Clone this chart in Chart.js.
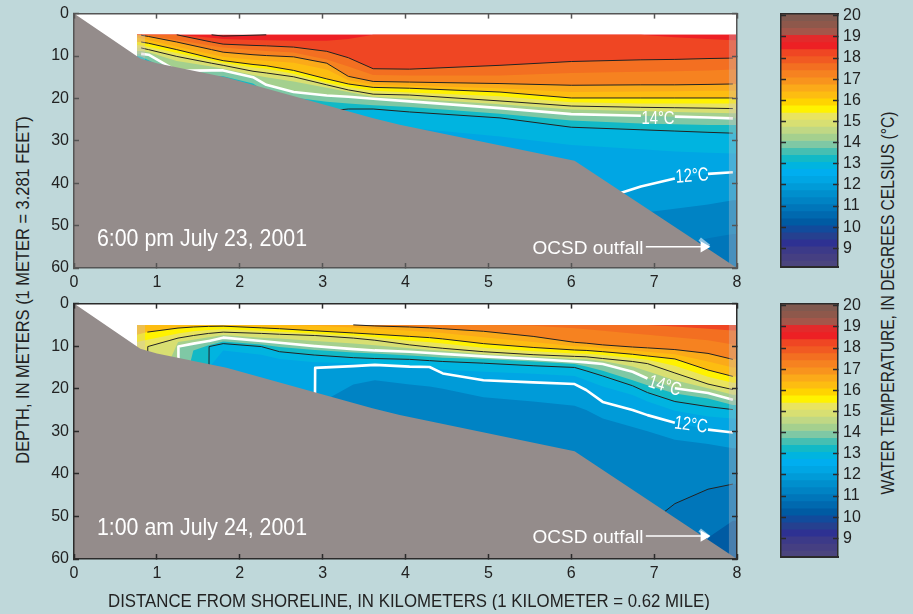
<!DOCTYPE html>
<html>
<head>
<meta charset="utf-8">
<script src="https://cdn.jsdelivr.net/npm/chart.js@4"></script>
<style>
  html, body { margin: 0; padding: 0; background: #bfd8da; }
  body { position: relative; width: 913px; height: 614px; overflow: hidden; font-family: 'Liberation Sans', sans-serif; }
  canvas { position: absolute; }
  .box { position: absolute; }
  .note { position: absolute; color: #fff; white-space: nowrap; transform: translate(-50%, -50%) scaleX(0.89); line-height: 1; }
  .title { position: absolute; color: #222; font-size: 19px; white-space: nowrap; transform: translate(-50%, -50%) scaleX(0.885); line-height: 1; }
  .title.up { transform: translate(-50%, -50%) rotate(-90deg) scaleX(0.865); }
</style>
</head>
<body>
<div class="box" style="left:40px;top:-6px;width:712px;height:306px"><canvas id="topPanel"></canvas></div>
<div class="box" style="left:40px;top:284px;width:712px;height:307px"><canvas id="bottomPanel"></canvas></div>
<div class="box" style="left:770px;top:-6px;width:100px;height:293px"><canvas id="topBar"></canvas></div>
<div class="box" style="left:770px;top:284px;width:100px;height:293px"><canvas id="bottomBar"></canvas></div>

<div class="note" style="left:202px;top:238px;font-size:24px">6:00 pm July 23, 2001</div>
<div class="note" style="left:202px;top:527px;font-size:24px">1:00 am July 24, 2001</div>
<div class="note" style="left:588px;top:247px;font-size:19px;transform:translate(-50%,-50%)">OCSD outfall</div>
<div class="note" style="left:588px;top:536px;font-size:19px;transform:translate(-50%,-50%)">OCSD outfall</div>
<div class="note" style="left:658px;top:117px;font-size:19px;transform:translate(-50%,-50%) scaleX(0.78)">14°C</div>
<div class="note" style="left:692px;top:175px;font-size:19px;transform:translate(-50%,-50%) rotate(-4deg) scaleX(0.78)">12°C</div>
<div class="note" style="left:665px;top:385px;font-size:19px;transform:translate(-50%,-50%) rotate(17deg) scaleX(0.78)">14°C</div>
<div class="note" style="left:691px;top:424px;font-size:19px;transform:translate(-50%,-50%) rotate(8deg) scaleX(0.78)">12°C</div>

<div class="title up" style="left:22px;top:290px">DEPTH, IN METERS (1 METER = 3.281 FEET)</div>
<div class="title up" style="left:888px;top:303px;font-size:18px">WATER TEMPERATURE, IN DEGREES CELSIUS (°C)</div>
<div class="title" style="left:409px;top:600px">DISTANCE FROM SHORELINE, IN KILOMETERS (1 KILOMETER = 0.62 MILE)</div>

<script>
// distance (km) ticks and depth (m) ticks
const distanceTicks = [0, 1, 2, 3, 4, 5, 6, 7, 8];
const depthTicks = [0, 10, 20, 30, 40, 50, 60];
const barTicks = [9, 10, 11, 12, 13, 14, 15, 16, 17, 18, 19, 20];

// colour bar, warm to cold, one colour per third of a degree
const barColors = ['#80594f', '#8e584b', '#a4564a', '#e32a2b', '#ed2024', '#ef4623', '#f15a22', '#f36f21', '#f68220',
  '#f8941d', '#fbaa19', '#fdbd11', '#ffd400', '#fff200', '#e9e45f', '#d8df72', '#c0d884', '#a4d08e', '#7fc8a5', '#45bfb2',
  '#12b9c6', '#00b4e0', '#00aeef', '#00a6e4', '#009bd8', '#008fcd', '#0083c4', '#0076ba', '#0069af', '#005ba3', '#114b9c',
  '#25408f', '#2e3192', '#3c3a88', '#453f82', '#4b457e'];
const barBottom = 8.1;
const barTop = 20.1;

// whole plot behind the section
const plotDistance = [0, 8];
const plotDepth = [0, 0];

// sea floor, same for both panels
const seabedDistance = [0, 0.8, 1, 1.84, 3.6, 3.93, 6.04, 8];
const seabedDepth = [0, 10.6, 11.7, 15.05, 24.6, 26.2, 34.7, 60];

// depth of each isotherm, 6:00 pm panel
const topColumns = [0.76, 0.81, 0.9, 1.24, 1.66, 1.8, 2.16, 2.32, 2.65, 3.05, 3.31, 3.61, 4.05, 5.14, 6, 6.84, 7.25, 7.65, 7.95, 8];
const topLevels = [19, 18.5, 18, 17.5, 17, 16.5, 16, 15.5, 15, 14.5, 14, 13.5, 13, 12.5, 12, 11.5, 11];
const top19 = [5, 5, 5, 5, 5, 5.3, 5.1, 5, 5, 5, 5, 5, 5, 5, 5, 5, 5, 5, 5, 5];
const top185 = [5, 5, 5, 5, 5.7, 6, 6.2, 6.3, 6.4, 6.4, 6, 5, 5, 5, 5, 5, 5.6, 6, 6.3, 6.3];
const top18 = [5, 5, 5, 5, 6.7, 7.2, 7.5, 7.6, 7.9, 8.9, 10.4, 13, 13.1, 12.2, 11.3, 10.9, 10.8, 10.6, 10.5, 10.5];
const top175 = [5, 5, 5.2, 6.2, 7.6, 8, 8.6, 8.8, 9.2, 10.8, 12.5, 14.5, 14.6, 14.6, 14, 13.7, 13.6, 13.4, 13.2, 13.2];
const top17 = [5.1, 5.1, 5.4, 6.7, 8.5, 9.1, 9.7, 9.9, 10.2, 11.7, 14.8, 16, 16.15, 16.5, 16.9, 16.8, 16.8, 16.7, 16.6, 16.6];
const top165 = [5.7, 5.8, 6.2, 7.8, 9.6, 10.2, 10.9, 11.1, 11.6, 13.2, 15.7, 16.8, 17, 17.6, 18.5, 18.4, 18.3, 18.2, 18.2, 18.2];
const top16 = [6.7, 6.7, 7, 8.5, 10.5, 11.1, 12, 12.3, 13.4, 15.4, 16.6, 17.4, 17.6, 18.5, 19.9, 19.9, 19.9, 19.9, 19.9, 19.9];
const top155 = [7.4, 7.5, 7.8, 9.3, 11, 11.6, 12.7, 13, 14.2, 16.3, 17.3, 18.2, 18.6, 19.5, 20.9, 21.2, 21.2, 21.2, 21.2, 21.2];
const top15 = [8.1, 8.1, 8.5, 10.1, 11.7, 12.2, 13.6, 14, 14.9, 16.8, 18, 19, 19.2, 20.6, 21.8, 22.1, 22.2, 22.3, 22.4, 22.4];
const top145 = [8.8, 8.8, 9.1, 11.2, 12.5, 13, 14.5, 15, 16, 17.5, 18.5, 19.6, 20, 21.4, 22.6, 23, 23.2, 23.4, 23.5, 23.5];
const top14 = [9.5, 9.5, 9.7, 13.5, 13.4, 13.4, 15, 16.8, 18.5, 19.3, 19.6, 20.1, 20.7, 22.3, 23.7, 24.1, 24.3, 24.5, 24.7, 24.7];
const top135 = [10, 10.2, 11, 14.5, 14.7, 14.8, 16.5, 18.5, 19.8, 20.8, 21.2, 21.6, 22, 23.6, 25.2, 25.9, 26.1, 26.3, 26.3, 26.3];
const top13 = [11.5, 11.5, 12, 16, 16.8, 17, 19, 20.5, 22, 23, 22.5, 22.5, 23.2, 24.6, 26.8, 27.4, 27.7, 28, 28.2, 28.2];
const top125 = [13, 13, 14, 18, 19, 19.5, 22, 23, 24, 25, 25.5, 26, 27, 29, 31, 32, 32.5, 32.8, 33, 33];
const top12 = [16, 16, 17, 22, 23.5, 24, 26, 28, 30, 32, 34, 36, 38, 42, 46, 40.8, 38.9, 37.8, 37.4, 37.4];
const top115 = [40, 40, 40, 40, 40, 40, 40, 40, 40, 40, 40, 40, 40, 45, 50, 47, 46, 45, 44, 44];
const top11 = [60, 60, 60, 60, 60, 60, 60, 60, 60, 60, 60, 60, 60, 60, 60, 60, 55, 53, 52, 52];
const topRows = [top19, top185, top18, top175, top17, top165, top16, top155, top15, top145, top14, top135, top13, top125, top12, top115, top11];

// depth of each isotherm, 1:00 am panel
const bottomColumns = [0.76, 0.885, 0.89, 1.255, 1.26, 1.44, 1.625, 1.63, 1.8, 2.26, 2.48, 2.905, 2.91, 3.37, 3.63, 4.05, 4.29, 4.45, 4.94, 5.54, 6.04, 6.18, 6.38, 6.74, 6.92, 7.25, 7.65, 7.95, 8];
const bottomLevels = [18.5, 18, 17.5, 17, 16.5, 16, 15.5, 15, 14.5, 14, 13.5, 13, 12.5, 12, 11.5, 11, 10.5];
const bot185 = [5, 5, 5, 5, 5, 5, 5, 5, 5, 5, 5, 5, 5, 5, 5, 5, 5, 5, 5, 5, 5, 5, 5, 5, 5, 5, 5, 5, 5];
const bot18 = [5, 5, 5, 5, 5, 5, 5, 5, 5, 5, 5, 5, 5, 5, 5, 5, 5, 5, 5, 5, 5, 5, 5, 5, 5, 5.4, 5.9, 6.3, 6.3];
const bot175 = [5, 5, 5, 5, 5, 5, 5, 5, 5, 5, 5, 5, 5, 5, 5, 5, 5, 5, 5, 5.2, 5.8, 6, 6.4, 7, 7.3, 7.9, 8.6, 9.6, 9.6];
const bot17 = [5, 5, 5, 5, 5, 5, 5, 5, 5, 5, 5, 5, 5, 5, 5.25, 5.5, 5.7, 5.9, 6.5, 7.7, 9.1, 9.3, 9.7, 10.2, 10.4, 10.8, 11.7, 13.1, 13.1];
const bot165 = [5, 5, 5, 5, 5, 5, 5, 5, 5, 5, 5, 5.2, 5.2, 5.6, 5.9, 6.4, 6.7, 6.9, 7.9, 9, 10, 10.1, 10.5, 11, 11.3, 11.9, 13.6, 15, 15];
const bot16 = [7.3, 6.7, 6.7, 5.75, 5.75, 5.5, 5.35, 5.35, 5.3, 5.7, 5.9, 6.4, 6.4, 6.9, 7.2, 7.7, 8, 8.3, 9.4, 10.3, 10.9, 11, 11.3, 11.9, 12.3, 13, 15.6, 17.1, 17.1];
const bot155 = [9, 8.5, 8.5, 7, 7, 6.5, 6.2, 6.2, 6, 6.4, 6.6, 7, 7, 7.5, 7.9, 8.7, 9.1, 9.4, 10.4, 11.2, 11.7, 11.8, 12.1, 12.8, 13.2, 14.6, 17.2, 18.6, 18.6];
const bot15 = [30, 30, 10.1, 8.1, 8.1, 7.5, 7, 7, 6.7, 7, 7.2, 7.5, 7.5, 8.1, 8.6, 9.7, 10.2, 10.5, 11.3, 12, 12.4, 12.5, 12.9, 13.6, 14.1, 16.3, 18.9, 20.2, 20.2];
const bot145 = [30, 30, 25, 9, 9, 8.5, 7.9, 7.9, 7.4, 8, 8.2, 8.8, 8.8, 9.4, 9.8, 10.5, 10.9, 11.1, 11.9, 12.5, 13, 13.1, 13.5, 14.8, 15.9, 18, 19.9, 21.4, 21.4];
const bot14 = [30, 30, 30, 30, 10.1, 9.4, 8.8, 8.8, 8, 8.8, 9.2, 10, 10, 10.7, 11, 11.3, 11.6, 11.8, 12.4, 13, 13.6, 13.8, 14.2, 16, 17.6, 19.9, 21, 22.6, 22.6];
const bot135 = [30, 30, 30, 30, 25, 11, 9.8, 9.8, 8.9, 9.6, 10.2, 10.9, 10.9, 11.5, 11.7, 12.2, 12.5, 12.7, 13, 13.6, 14.2, 14.8, 15.8, 18, 19.2, 21.1, 22.3, 23.8, 23.8];
const bot13 = [30, 30, 30, 30, 30, 30, 30, 10.1, 9.4, 10.1, 11.3, 12.1, 12.1, 12.7, 12.9, 13.1, 13.4, 13.6, 14, 14.6, 15, 15.8, 17, 19.3, 20.9, 23, 24.2, 24.9, 24.9];
const bot125 = [30, 30, 30, 30, 30, 30, 30, 15, 11, 12, 13, 13.8, 13.8, 14, 14.2, 14.5, 14.7, 15.5, 16, 16.5, 17, 18, 19.5, 21.5, 23, 25.2, 26.5, 27, 27];
const bot12 = [40, 40, 40, 40, 40, 40, 40, 40, 40, 40, 40, 30, 15.1, 14.7, 14.4, 14.8, 14.9, 16.4, 18, 18.5, 18.9, 20.3, 23.1, 25, 26.2, 28, 29.6, 30.3, 30.3];
const bot115 = [60, 60, 60, 60, 60, 60, 60, 60, 60, 60, 60, 60, 24, 19, 18, 19, 19.5, 20, 22, 23, 24, 25, 27, 29, 30, 32, 33, 34, 34];
const bot11 = [60, 60, 60, 60, 60, 60, 60, 60, 60, 60, 60, 60, 60, 60, 60, 60, 60, 60, 60, 60, 60, 60, 60, 60, 52, 47, 43.6, 42.4, 42.4];
const bot105 = [60, 60, 60, 60, 60, 60, 60, 60, 60, 60, 60, 60, 60, 60, 60, 60, 60, 60, 60, 60, 60, 60, 60, 60, 60, 60, 55, 51, 51];
const bottomRows = [bot185, bot18, bot175, bot17, bot165, bot16, bot155, bot15, bot145, bot14, bot135, bot13, bot125, bot12, bot115, bot11, bot105];

// which isotherms get a line, and where the label interrupts them
const topBlack = [19, 18, 17, 16, 15, 13];
const bottomBlack = [17, 16, 15, 13, 11];
const whiteLevels = [14, 12];
const labelGaps = { 14: [6.84, 7.25], 12: [7.25, 7.65] };
const bottomGaps = { 14: [6.92, 7.25], 12: [7.25, 7.65] };

// arrow and the small plume at the outfall
const arrowDistance = [6.9, 7.6];
const topArrowDepth = [55, 55];
const bottomArrowDepth = [54.6, 54.6];
const plumeDistance = [7.55, 7.66];
const plumeDepth = [53.2, 54.9];

// pale columns at both ends of the measured section
const leftStripDistance = [0.76, 0.86];
const rightStripDistance = [7.9, 8];
const stripDepth = [5, 5];

const waterSurface = 5;
const floorDepth = 60;

const pair = function (xs, ys) {
  return xs.map(function (x, i) { return { x: x, y: ys[i] }; });
};

const colorAt = function (t) {
  const i = Math.floor((barTop - t) * 3);
  return barColors[Math.max(0, Math.min(barColors.length - 1, i))];
};

// colour of the water just below an isotherm
const colorBelow = function (level) {
  return colorAt(level - (level >= 15.5 ? 0.25 : 0.2));
};

// bare axis with short ticks pointing into the plot
const frameAxis = function (position, ticks, min, max, size, showLabels, color, font) {
  const tickLen = 5;
  return {
    type: 'linear',
    position: position,
    min: min,
    max: max,
    reverse: false,
    afterBuildTicks: function (scale) {
      scale.ticks = ticks.map(function (v) { return { value: v }; });
    },
    afterFit: function (scale) {
      if (position === 'top' || position === 'bottom') scale.height = size;
      else scale.width = size;
    },
    border: { display: true, color: color, width: 1.5, z: 2 },
    grid: { drawOnChartArea: false, drawTicks: true, tickLength: -tickLen, tickColor: color, tickWidth: 1.5, z: 2 },
    ticks: {
      display: showLabels,
      color: '#222',
      padding: tickLen + 5,
      maxRotation: 0,
      autoSkip: false,
      font: font
    }
  };
};

const buildPanel = function (canvasId, columns, levels, rows, blackLevels, gaps, arrowDepth, frameColor) {
  const datasets = [];
  let order = 1000;
  const add = function (ds) {
    ds.order = order--;
    ds.pointRadius = ds.pointRadius || 0;
    datasets.push(ds);
  };
  const font = { family: "'Liberation Sans', sans-serif", size: 16 };

  add({ data: pair(plotDistance, plotDepth), borderWidth: 0, backgroundColor: '#fff', fill: { value: floorDepth } });

  // water column: paint warm to cold, each isotherm covers everything below it
  add({
    data: pair(columns, columns.map(function () { return waterSurface; })),
    borderWidth: 0,
    backgroundColor: colorBelow(levels[0]),
    fill: { value: floorDepth }
  });
  levels.forEach(function (level, i) {
    add({
      data: pair(columns, rows[i]),
      borderWidth: 0,
      backgroundColor: colorBelow(level),
      fill: { value: floorDepth }
    });
  });

  // contour lines, skipping the end columns and stretches sitting on the water surface
  const contourData = function (level) {
    const row = rows[levels.indexOf(level)];
    const points = [];
    row.forEach(function (d, i) {
      if (i === 0 || i === row.length - 1) return;
      const used = d > waterSurface || row[i - 1] > waterSurface || row[i + 1] > waterSurface;
      points.push({ x: columns[i], y: used ? d : null });
    });
    return points;
  };
  blackLevels.forEach(function (level) {
    add({ data: contourData(level), borderColor: '#222', borderWidth: 1, fill: false });
  });
  whiteLevels.forEach(function (level) {
    const gap = gaps[level];
    add({
      data: contourData(level),
      borderColor: '#fff',
      borderWidth: 2.6,
      borderJoinStyle: 'round',
      fill: false,
      segment: {
        borderColor: function (ctx) {
          return ctx.p0.parsed.x >= gap[0] && ctx.p1.parsed.x <= gap[1] ? 'rgba(0,0,0,0)' : undefined;
        }
      }
    });
  });

  // muted end columns
  [leftStripDistance, rightStripDistance].forEach(function (xs) {
    add({
      data: pair(xs, stripDepth),
      borderWidth: 0,
      backgroundColor: 'rgba(205,195,195,0.35)',
      fill: { value: floorDepth }
    });
  });

  add({ data: pair(plumeDistance, plumeDepth), borderColor: 'rgba(255,255,255,0.55)', borderWidth: 4, fill: false });

  add({
    data: pair(seabedDistance, seabedDepth),
    borderWidth: 0,
    backgroundColor: '#948c8b',
    fill: { value: floorDepth }
  });

  add({
    data: pair(arrowDistance, arrowDepth),
    borderColor: '#fff',
    borderWidth: 1.5,
    fill: false,
    pointRadius: [0, 5],
    pointStyle: 'triangle',
    pointRotation: 90,
    pointBackgroundColor: '#fff',
    pointBorderColor: '#fff'
  });

  const yLeft = frameAxis('left', depthTicks, 0, floorDepth, 34, true, frameColor, font);
  yLeft.reverse = true;
  const yRight = frameAxis('right', depthTicks, 0, floorDepth, 0, false, frameColor, font);
  yRight.reverse = true;

  new Chart(document.getElementById(canvasId), {
    type: 'line',
    data: { datasets: datasets },
    options: {
      responsive: true,
      maintainAspectRatio: false,
      animation: false,
      layout: { autoPadding: false, padding: { top: 0, right: 15 } },
      plugins: {
        legend: { display: false },
        tooltip: { enabled: false },
        title: { display: false }
      },
      elements: { line: { tension: 0 } },
      scales: {
        x: frameAxis('bottom', distanceTicks, 0, 8, 32, true, frameColor, font),
        xTop: frameAxis('top', distanceTicks, 0, 8, 0, false, frameColor, font),
        y: yLeft,
        yRight: yRight
      }
    }
  });
};

const buildBar = function (canvasId) {
  const font = { family: "'Liberation Sans', sans-serif", size: 16 };
  const datasets = barColors.map(function (color, i) {
    return {
      data: [[barTop - (i + 1) / 3, barTop - i / 3]],
      backgroundColor: color,
      borderWidth: 0,
      barPercentage: 1,
      categoryPercentage: 1,
      grouped: false
    };
  });
  const frame = '#2b2b2b';
  new Chart(document.getElementById(canvasId), {
    type: 'bar',
    data: { labels: ['°C'], datasets: datasets },
    options: {
      responsive: true,
      maintainAspectRatio: false,
      animation: false,
      layout: { autoPadding: false, padding: { top: 0, bottom: 0 } },
      plugins: { legend: { display: false }, tooltip: { enabled: false } },
      scales: {
        x: {
          type: 'category',
          afterFit: function (scale) { scale.height = 0; },
          border: { display: true, color: frame, width: 2, z: 2 },
          grid: { display: false },
          ticks: { display: false }
        },
        xTop: frameAxis('top', [], 0, 1, 0, false, frame, font),
        y: frameAxis('right', barTicks, barBottom, barTop, 32, true, frame, font),
        yLeft: frameAxis('left', barTicks, barBottom, barTop, 11, false, frame, font)
      }
    }
  });
};

document.addEventListener('DOMContentLoaded', function () {
  buildPanel('topPanel', topColumns, topLevels, topRows, topBlack, labelGaps, topArrowDepth, '#555');
  buildPanel('bottomPanel', bottomColumns, bottomLevels, bottomRows, bottomBlack, bottomGaps, bottomArrowDepth, '#2b2b2b');
  buildBar('topBar');
  buildBar('bottomBar');
});
</script>
</body>
</html>
